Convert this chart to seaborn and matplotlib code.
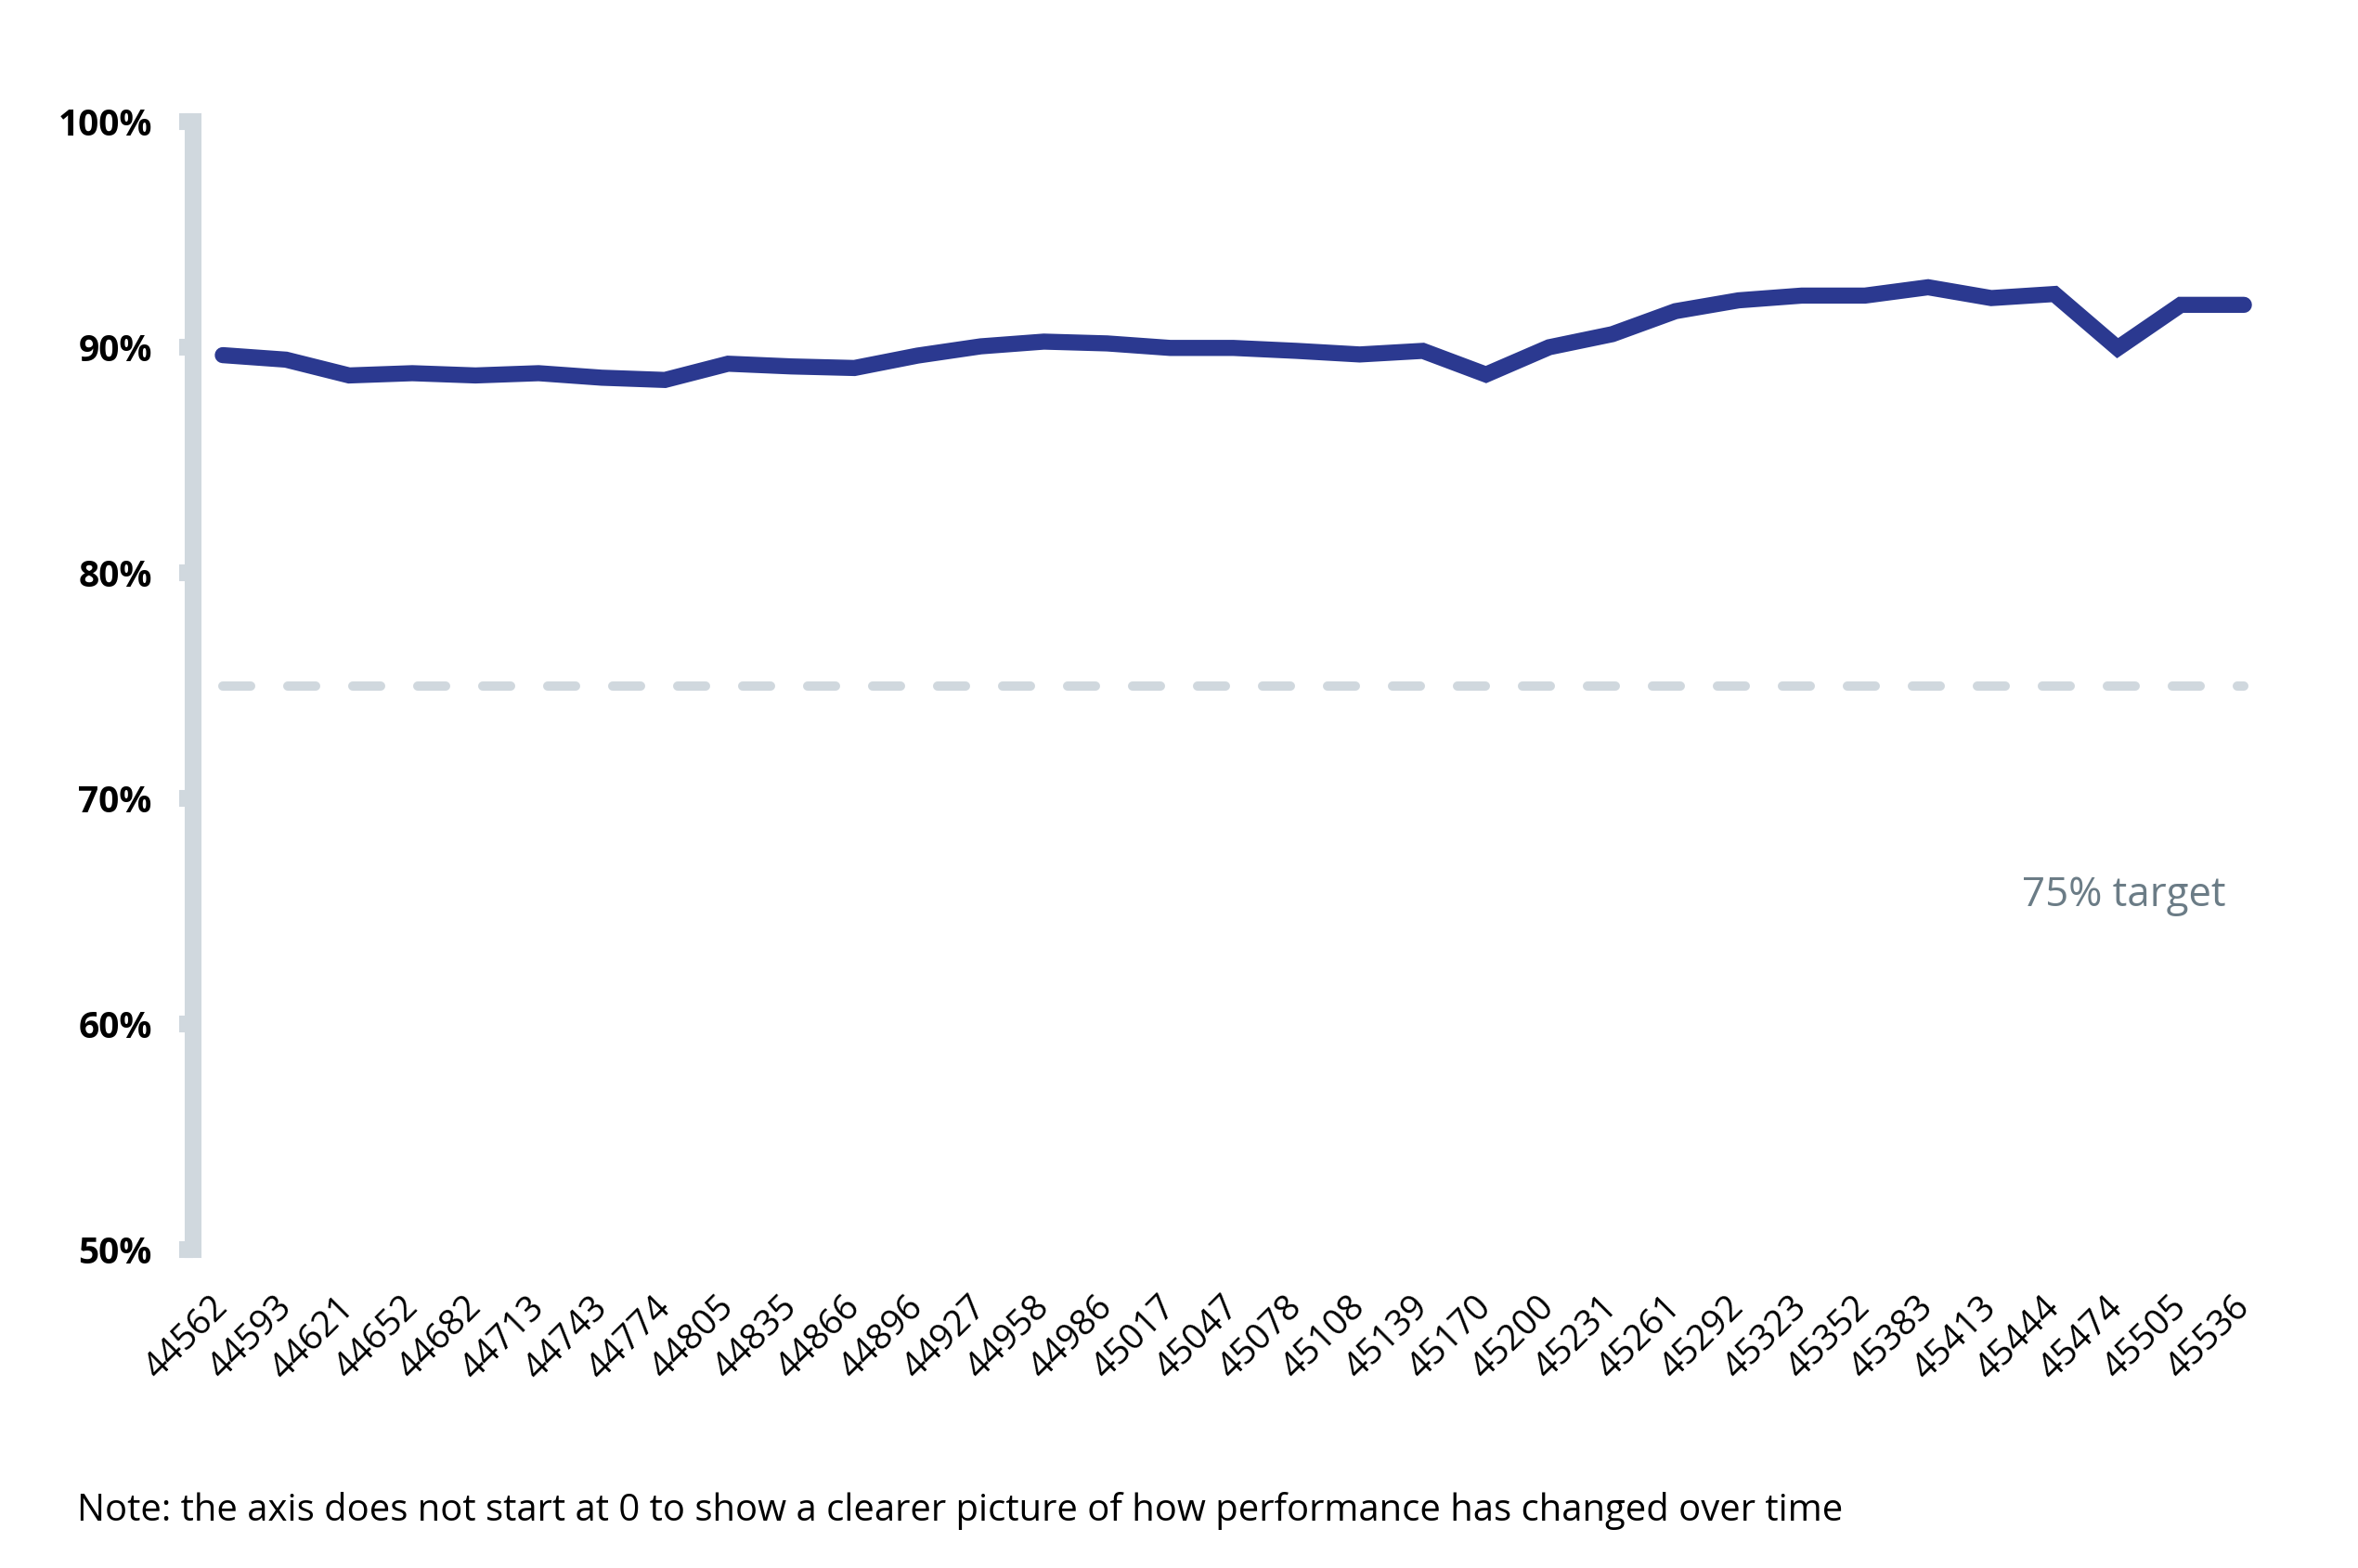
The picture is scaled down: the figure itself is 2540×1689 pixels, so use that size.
import pandas as pd
import matplotlib.pyplot as plt
import seaborn as sns
from matplotlib.ticker import FuncFormatter

# month serials as they appear on the axis
months = ["44562", "44593", "44621", "44652", "44682", "44713", "44743", "44774",
          "44805", "44835", "44866", "44896", "44927", "44958", "44986", "45017",
          "45047", "45078", "45108", "45139", "45170", "45200", "45231", "45261",
          "45292", "45323", "45352", "45383", "45413", "45444", "45474", "45505",
          "45536"]

# performance (%)
performance = [89.65, 89.45, 88.75, 88.85, 88.75, 88.85, 88.65, 88.55,
               89.27, 89.15, 89.08, 89.63, 90.04, 90.25, 90.17, 89.97,
               89.97, 89.84, 89.68, 89.84, 88.79, 90.0, 90.58, 91.6,
               92.08, 92.29, 92.29, 92.66, 92.18, 92.36, 89.96, 91.88,
               91.88]

target = 75

line_color = "#2b3990"
grey = "#d0d8de"
text_grey = "#6b7c86"

sns.set_theme(style="white")
plt.rcParams['font.family'] = ['Open Sans', 'DejaVu Sans']

df = pd.DataFrame({
    "pos": range(len(months)),
    "month": months,
    "performance": performance,
    "target": [target] * len(months),
})

fig = plt.figure(figsize=(25.4, 16.89), dpi=100)
ax = fig.add_axes([0.0819, 0.2031, 0.965 - 0.0819, 0.9224 - 0.2031])

# target line
sns.lineplot(data=df, x="pos", y="target", color=grey, linewidth=7.2,
             linestyle=(0, (3, 4)), dash_capstyle="round", ax=ax)
# performance line
sns.lineplot(data=df, x="pos", y="performance", color=line_color, linewidth=12.5,
             solid_capstyle="round", solid_joinstyle="miter", ax=ax)

ax.set_ylim(50, 100)
ax.set_yticks(range(50, 101, 10))
ax.yaxis.set_major_formatter(FuncFormatter(lambda v, p: f"{int(v)}%"))
ax.set_xlim(-0.47, 32.5)
ax.set_xticks(df["pos"])
ax.set_xticklabels(months, rotation=45, ha="right", va="center", rotation_mode="anchor")

for s in ["top", "right", "bottom"]:
    ax.spines[s].set_visible(False)
ax.spines["left"].set_color(grey)
ax.spines["left"].set_linewidth(13)

ax.tick_params(axis="y", length=10.8, width=13, color=grey, pad=21, labelsize=28,
               left=True)
ax.tick_params(axis="x", length=0, pad=41, labelsize=27.5)
for lab in ax.get_yticklabels():
    lab.set_fontweight("bold")
    lab.set_color("black")
for lab in ax.get_xticklabels():
    lab.set_color("black")

ax.set_xlabel("")
ax.set_ylabel("")

ax.text(30.1, 65.7, "75% target", color=text_grey, fontsize=31.5, ha="center", va="center")

fig.text(83 / 2540, 1 - 1627 / 1689,
         "Note: the axis does not start at 0 to show a clearer picture of how performance has changed over time",
         fontsize=28.8, ha="left", va="center", color="black")

fig.savefig("out.png", dpi=100)
